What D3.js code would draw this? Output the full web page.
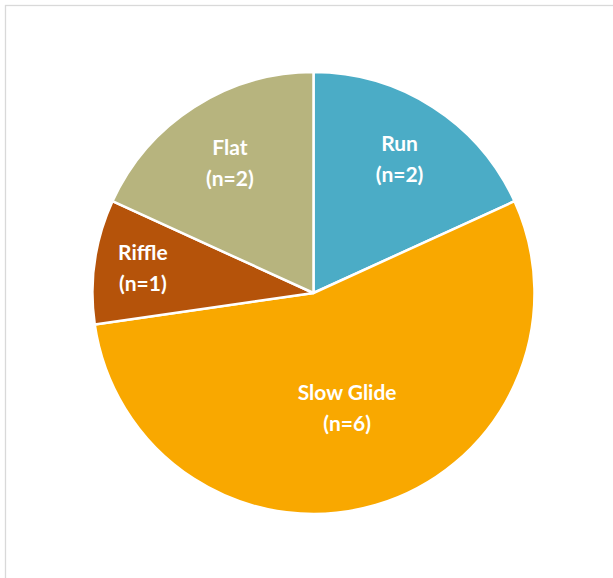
<!DOCTYPE html>
<html>
<head>
<meta charset="utf-8">
<script src="https://cdn.jsdelivr.net/npm/d3@7"></script>
<style>
  html, body { margin: 0; padding: 0; background: #fff; }
  svg { display: block; }
</style>
</head>
<body>
<svg id="chart" width="613" height="578"></svg>
<script>
// Habitat types and the number of sites in each
const categories = ["Run", "Slow Glide", "Riffle", "Flat"];
const counts = [2, 6, 1, 2];
const colors = ["#4BACC6", "#F9A800", "#B5530A", "#B7B47E"];
// Where each label sits along its slice's mid-angle, as a fraction of the radius
const labelRadius = [0.72, 0.54, 0.78, 0.70];

const svg = d3.select("#chart");
const W = 613, H = 578;
const cx = 313.5, cy = 293, R = 221;

// Chart frame
svg.append("rect")
  .attr("x", 5.5).attr("y", 5.5)
  .attr("width", W + 10).attr("height", H + 10)
  .attr("fill", "#fff")
  .attr("stroke", "#D9D9D9")
  .attr("stroke-width", 1.3);

const data = categories.map((c, i) => ({ name: c, n: counts[i], color: colors[i], lr: labelRadius[i] }));

const pie = d3.pie().value(d => d.n).sort(null);
const arc = d3.arc().innerRadius(0).outerRadius(R);
const arcs = pie(data);

const g = svg.append("g").attr("transform", `translate(${cx},${cy})`);

g.selectAll("path.slice")
  .data(arcs)
  .join("path")
  .attr("class", "slice")
  .attr("d", arc)
  .attr("fill", d => d.data.color)
  .attr("stroke", "#fff")
  .attr("stroke-width", 2.5)
  .attr("stroke-linejoin", "round");

const labels = g.selectAll("text.lbl")
  .data(arcs)
  .join("text")
  .attr("class", "lbl")
  .attr("transform", d => {
    const a = (d.startAngle + d.endAngle) / 2;
    const r = R * d.data.lr;
    return `translate(${Math.sin(a) * r},${-Math.cos(a) * r})`;
  })
  .attr("text-anchor", "middle")
  .attr("fill", "#fff")
  .style("font-family", "Lato, 'Open Sans', sans-serif")
  .style("font-weight", "bold")
  .style("font-size", "21px");

labels.append("tspan")
  .attr("x", 0).attr("y", -8)
  .text(d => d.data.name);
labels.append("tspan")
  .attr("x", 0).attr("y", 23)
  .text(d => `(n=${d.data.n})`);
</script>
</body>
</html>
